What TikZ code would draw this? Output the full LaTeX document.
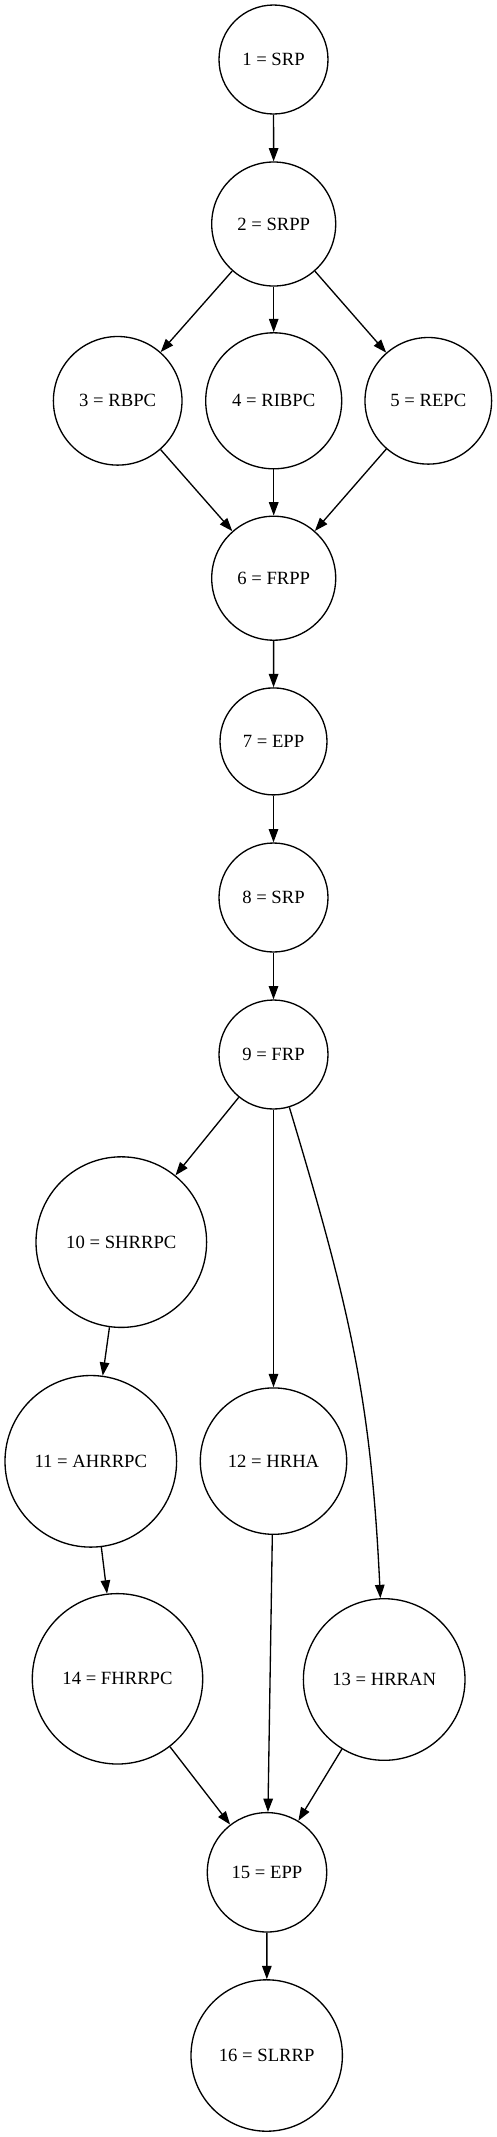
\documentclass[tikz,border=0pt]{standalone}
\usepackage{fontspec}
\setmainfont{Liberation Serif}
\usetikzlibrary{arrows.meta}

\begin{document}
\begin{tikzpicture}[x=1pt,y=-1pt,line width=1.33pt,
    state/.style={draw,circle,inner sep=0pt,font=\fontsize{18.67}{22}\selectfont},
    edge/.style={-{Triangle[length=13.3pt,width=9.5pt]}}]
  \useasboundingbox (0,0) rectangle (497,2137);
  \node[state,minimum size=109pt] (n1) at (273.5,59.5) {1 = SRP};
  \node[state,minimum size=124pt] (n2) at (273.7,224) {2 = SRPP};
  \node[state,minimum size=128.6pt] (n3) at (117.7,400.8) {3 = RBPC};
  \node[state,minimum size=136pt] (n4) at (273.7,400.8) {4 = RIBPC};
  \node[state,minimum size=126.6pt] (n5) at (428.3,400.8) {5 = REPC};
  \node[state,minimum size=124pt] (n6) at (273.7,578.2) {6 = FRPP};
  \node[state,minimum size=107pt] (n7) at (273.5,741.4) {7 = EPP};
  \node[state,minimum size=109pt] (n8) at (273.5,897.5) {8 = SRP};
  \node[state,minimum size=109pt] (n9) at (273.5,1054.5) {9 = FRP};
  \node[state,minimum size=170.6pt] (n10) at (121.3,1242.1) {10 = SHRRPC};
  \node[state,minimum size=171.6pt] (n11) at (90.8,1461.3) {11 = AHRRPC};
  \node[state,minimum size=146.4pt] (n12) at (273.5,1461.1) {12 = HRHA};
  \node[state,minimum size=161.6pt] (n13) at (384.2,1679.5) {13 = HRRAN};
  \node[state,minimum size=170.4pt] (n14) at (117.5,1678.8) {14 = FHRRPC};
  \node[state,minimum size=119.4pt] (n15) at (267,1872.3) {15 = EPP};
  \node[state,minimum size=151.4pt] (n16) at (266.7,2055.5) {16 = SLRRP};
  \draw[edge] (n1) -- (n2);
  \draw[edge] (n2) -- (n3);
  \draw[edge] (n2) -- (n4);
  \draw[edge] (n2) -- (n5);
  \draw[edge] (n3) -- (n6);
  \draw[edge] (n4) -- (n6);
  \draw[edge] (n5) -- (n6);
  \draw[edge] (n6) -- (n7);
  \draw[edge] (n7) -- (n8);
  \draw[edge] (n8) -- (n9);
  \draw[edge] (n9) -- (n10);
  \draw[edge] (n9) -- (n12);
  \draw[edge] (n9) .. controls (350,1309) and (371,1399) .. (n13);
  \draw[edge] (n10) -- (n11);
  \draw[edge] (n11) -- (n14);
  \draw[edge] (n12) -- (n15);
  \draw[edge] (n14) -- (n15);
  \draw[edge] (n13) -- (n15);
  \draw[edge] (n15) -- (n16);
\end{tikzpicture}
\end{document}
